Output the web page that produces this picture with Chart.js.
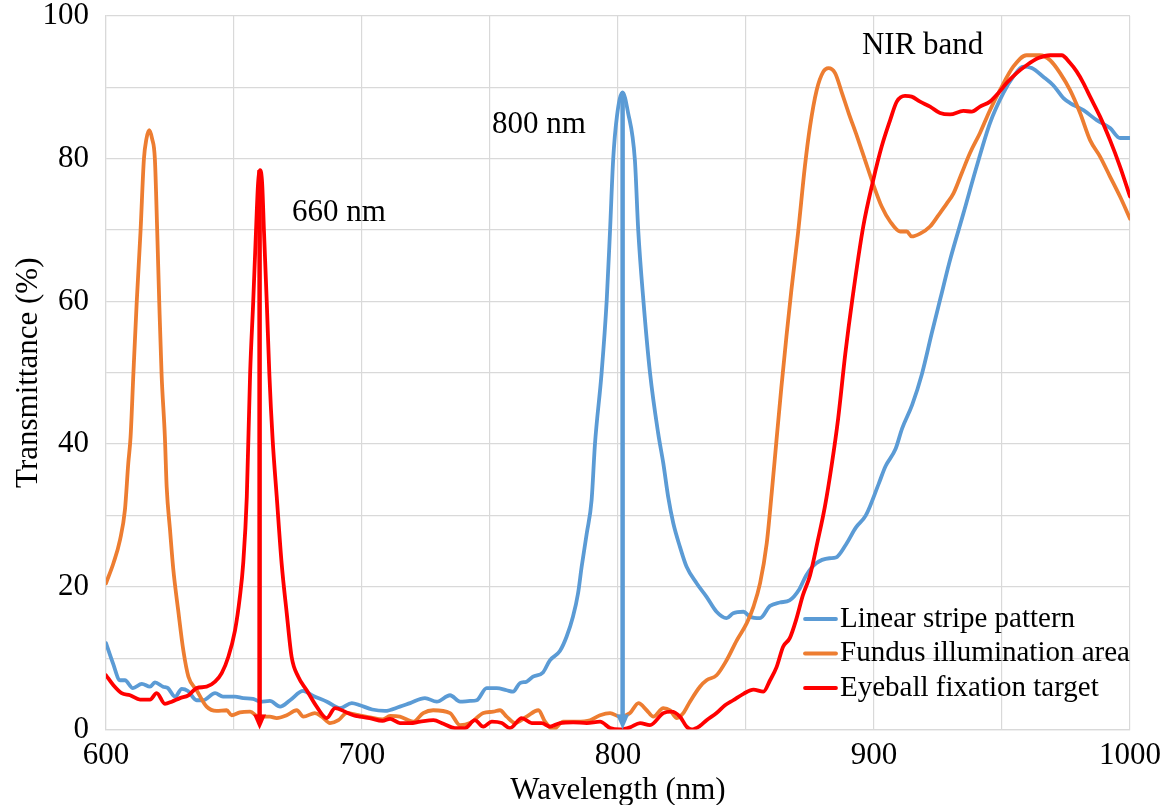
<!DOCTYPE html>
<html>
<head>
<meta charset="utf-8">
<script src="https://cdn.jsdelivr.net/npm/chart.js@4.4.1/dist/chart.umd.min.js"></script>
<style>
  html, body { margin: 0; padding: 0; background: #fff; }
  #wrap { width: 1171px; height: 805px; }
</style>
</head>
<body>
<div id="wrap"><canvas id="spectra" width="1171" height="805"></canvas></div>
<script>
// transmittance spectra (%) of the three filter zones, sampled in nm
const stripeNm = [600, 602.7, 605.5, 607.4, 610.5, 614, 617.2, 619.1, 622.3, 624.2, 627, 629.6, 632, 635.4, 638, 642.6, 645.7, 650.4, 653.6, 657.4, 660.2, 664, 668, 671.9, 677, 681, 686.3, 691.4, 696, 699.2, 704, 709, 714.8, 718.8, 724.6, 729.2, 734.4, 738.3, 742.2, 744.8, 748.7, 752.6, 756.5, 759, 761.7, 764.3, 766.8, 770.7, 773.4, 777.3, 779.9, 782.4, 784.4, 785.8, 787.8, 789.7, 791, 793.6, 795.6, 796.9, 798.1, 799.6, 801.8, 803.9, 806.6, 807.9, 809.9, 812.5, 815.7, 817.7, 819.6, 821.6, 824.2, 826.8, 830.7, 834.6, 838.5, 842.4, 845, 849, 851.6, 855.5, 859.3, 863.2, 867, 870.9, 873.5, 877.4, 882.6, 885.1, 889, 892.9, 896.8, 901.9, 904.5, 908.4, 911, 914.9, 918.7, 922.6, 926, 929.7, 934.9, 940.1, 945.3, 950.5, 954.4, 958.3, 961.6, 966.1, 970, 974, 976.6, 981.8, 987, 992.2, 996.1, 1000];
const stripeT = [12.1, 9.3, 6.9, 6.9, 5.8, 6.4, 6.0, 6.6, 6.0, 5.8, 4.6, 5.7, 5.4, 4.1, 4.1, 5.1, 4.6, 4.6, 4.4, 4.3, 3.9, 4.0, 3.2, 4.1, 5.4, 4.7, 3.9, 3.0, 3.7, 3.4, 2.8, 2.6, 3.2, 3.7, 4.4, 3.9, 4.8, 3.9, 4.0, 4.1, 5.8, 5.8, 5.5, 5.3, 6.5, 6.7, 7.4, 8.0, 9.7, 11.0, 13.0, 15.8, 19.1, 22.8, 27.5, 32.2, 40.0, 50.0, 60.2, 70.0, 79.8, 86.0, 89.3, 86.5, 79.8, 70.0, 60.2, 50.0, 41.5, 37.3, 32.6, 28.9, 25.6, 22.8, 20.5, 18.6, 16.5, 15.6, 16.3, 16.5, 15.8, 15.6, 17.3, 17.8, 18.1, 19.7, 21.6, 23.3, 24.0, 24.1, 25.9, 28.3, 30.0, 34.5, 36.9, 39.3, 42.2, 45.5, 49.8, 55.6, 60.5, 65.8, 72.3, 78.9, 85.0, 89.2, 91.5, 92.9, 92.7, 91.5, 90.3, 88.5, 87.8, 86.8, 85.4, 84.3, 82.9, 82.9];

const fundusNm = [600, 602.9, 605.5, 607.4, 608.7, 609.6, 610.7, 612, 613.5, 614.8, 615.8, 616.9, 618, 619.1, 620, 620.8, 621.7, 623, 623.7, 625, 626.3, 628.2, 630.2, 632.2, 635.4, 639.3, 643.2, 647.1, 649.1, 652.3, 656.3, 659.5, 664, 666.7, 670.6, 674.5, 677.1, 681.6, 684.3, 687.5, 690.8, 694, 698.6, 703, 708, 711, 714.8, 720, 723.9, 727.8, 734.4, 738.3, 742.2, 747.4, 751.3, 753.9, 756.5, 759.8, 764.3, 768.9, 771.5, 774.7, 778.6, 783.9, 789.1, 793, 796.9, 800.8, 804.7, 808, 811.2, 813.8, 817.7, 820.3, 823, 825.5, 828.1, 832, 834.6, 838.5, 842.4, 846.4, 850.3, 852.9, 855.5, 858.1, 860, 861.9, 863.8, 865.8, 867.7, 870.3, 873, 875, 877.6, 880.2, 882.2, 884.8, 887.5, 890.1, 893.4, 896.5, 900, 903, 906.3, 910.2, 912.8, 914.7, 918, 921.9, 925.2, 928.4, 931, 934.3, 937.5, 941.4, 945.3, 949.2, 954.4, 959.6, 964.8, 968.8, 972.7, 976.6, 980.5, 984.4, 988.3, 992.2, 996.1, 1000];
const fundusT = [20.5, 23.3, 26.6, 30.8, 37.3, 41.0, 49.9, 59.9, 69.9, 79.9, 82.8, 84.0, 82.8, 79.9, 69.9, 59.9, 49.9, 41.0, 34.0, 28.0, 22.4, 16.7, 11.1, 7.4, 5.5, 3.2, 2.6, 2.7, 2.0, 2.4, 2.5, 1.8, 1.8, 1.6, 2.0, 2.7, 1.8, 2.3, 1.8, 0.9, 1.3, 2.3, 2.0, 1.7, 1.4, 1.9, 1.8, 1.1, 2.3, 2.7, 2.3, 0.6, 0.9, 2.3, 2.5, 2.7, 1.8, 0.9, 1.8, 2.7, 1.1, 0.0, 1.1, 1.1, 1.3, 2.0, 2.3, 1.8, 2.3, 3.7, 2.7, 1.8, 3.0, 2.7, 1.6, 2.3, 3.9, 6.0, 6.9, 7.6, 9.7, 12.5, 14.9, 17.2, 20.5, 26.1, 33.0, 40.5, 47.9, 55.1, 61.5, 69.5, 78.9, 84.5, 89.6, 92.2, 92.7, 92.0, 89.2, 86.4, 83.1, 79.8, 76.1, 73.3, 71.2, 69.8, 69.8, 69.1, 69.5, 70.5, 72.1, 73.7, 75.1, 78.0, 80.8, 83.6, 86.8, 89.6, 92.9, 94.5, 94.5, 93.8, 92.0, 89.6, 86.4, 82.6, 80.3, 77.5, 74.7, 71.6];

const fixationNm = [600, 602.9, 606.1, 609.4, 613.3, 617.2, 619.8, 623, 625.7, 628.9, 632.2, 635.4, 639.3, 642.6, 645.2, 647.8, 650.4, 652.3, 653.6, 655, 656.3, 657.5, 658.6, 659.4, 660.2, 661, 661.7, 662.8, 663.8, 665.1, 666.7, 668.6, 670.6, 672.5, 675.1, 678.4, 682.3, 686.2, 689.5, 693.4, 696.6, 699.2, 703, 708, 711, 714.8, 718.8, 722.7, 727.9, 731.8, 736.3, 740.2, 744.1, 747.4, 750.7, 754.6, 757.8, 762.4, 766.3, 770.2, 773.4, 777.3, 782.5, 787.8, 793, 796.9, 800.8, 804.7, 808.6, 812.5, 817.7, 820.9, 824.2, 826.8, 828.8, 832, 834.6, 838.5, 841.8, 845, 849, 852.9, 856.8, 859.4, 861.9, 864.5, 867.1, 869.6, 872.2, 875, 878, 880.8, 883.4, 886, 888.8, 891.5, 895.8, 899.7, 903, 906.3, 908.9, 912.1, 914.7, 918, 921.9, 925.8, 929.7, 934.9, 938.2, 941.4, 945.3, 948.6, 951.8, 955.7, 959.6, 964.2, 968.8, 973.3, 976.6, 979.2, 981.8, 984.4, 988.3, 992.2, 996.1, 1000];
const fixationT = [7.6, 6.2, 5.1, 4.8, 4.2, 4.2, 5.1, 3.6, 3.9, 4.4, 4.8, 5.8, 6.0, 6.7, 7.9, 10.2, 13.9, 18.6, 23.3, 32.6, 49.9, 59.9, 69.9, 76.5, 78.4, 76.5, 69.9, 59.9, 49.9, 40.6, 32.6, 23.3, 16.3, 10.2, 7.4, 5.5, 3.2, 1.6, 3.0, 2.5, 2.0, 1.8, 1.6, 1.2, 1.5, 0.9, 0.9, 1.1, 1.3, 0.8, 0.2, 0.2, 1.3, 0.4, 1.1, 0.9, 0.2, 1.6, 0.9, 0.9, 0.4, 0.9, 1.0, 0.9, 1.1, 0.2, 0.0, 0.3, 0.9, 0.6, 2.3, 2.5, 1.8, 0.4, 0.0, 0.5, 1.3, 2.3, 3.4, 4.1, 5.0, 5.6, 5.3, 6.9, 8.7, 11.6, 12.8, 15.4, 18.8, 21.6, 26.4, 31.2, 36.9, 43.6, 52.7, 60.2, 70.5, 77.0, 81.7, 85.4, 88.0, 88.8, 88.7, 88.0, 87.3, 86.4, 86.2, 86.7, 86.6, 87.3, 88.0, 89.2, 90.6, 92.0, 93.1, 94.1, 94.5, 94.5, 93.4, 92.2, 90.6, 88.7, 85.9, 82.6, 78.9, 74.7];

const seriesNames = ['Linear stripe pattern', 'Fundus illumination area', 'Eyeball fixation target'];
const seriesColors = ['#5b9bd5', '#ed7d31', '#ff0000'];

const xTicks = [600, 700, 800, 900, 1000];
const yTicks = [0, 20, 40, 60, 80, 100];

// vertical arrows from the peaks down to the axis
const arrowNm = [660, 801.8];
const arrowTop = [78.4, 89.3];
const arrowColors = ['#ff0000', '#5b9bd5'];

// text labels placed in data space
const noteText = ['660 nm', '800 nm', 'NIR band'];
const noteNm = [672.7, 750.8, 895.3];
const noteT = [72.4, 84.8, 95.8];

const SERIF = '"Liberation Serif", "Times New Roman", serif';
Chart.defaults.font.family = SERIF;
Chart.defaults.color = '#000';

const pairs = (xs, ys) => xs.map((x, i) => ({ x: x, y: ys[i] }));
const series = [pairs(stripeNm, stripeT), pairs(fundusNm, fundusT), pairs(fixationNm, fixationT)];

const peakArrows = {
  id: 'peakArrows',
  afterDatasetsDraw(chart) {
    const { ctx, scales: { x, y } } = chart;
    ctx.save();
    arrowNm.forEach((nm, i) => {
      const px = x.getPixelForValue(nm);
      const top = y.getPixelForValue(arrowTop[i]);
      const tip = y.getPixelForValue(0);
      const headH = 15, headW = 6.5;
      ctx.strokeStyle = arrowColors[i];
      ctx.fillStyle = arrowColors[i];
      ctx.lineWidth = 4.5;
      ctx.beginPath();
      ctx.moveTo(px, top);
      ctx.lineTo(px, tip - headH + 1);
      ctx.stroke();
      ctx.beginPath();
      ctx.moveTo(px - headW, tip - headH);
      ctx.lineTo(px + headW, tip - headH);
      ctx.lineTo(px, tip);
      ctx.closePath();
      ctx.fill();
    });
    ctx.restore();
  }
};

const notes = {
  id: 'notes',
  afterDatasetsDraw(chart) {
    const { ctx, scales: { x, y } } = chart;
    ctx.save();
    ctx.font = '31px ' + SERIF;
    ctx.fillStyle = '#000';
    ctx.textAlign = 'left';
    ctx.textBaseline = 'middle';
    noteText.forEach((t, i) => ctx.fillText(t, x.getPixelForValue(noteNm[i]), y.getPixelForValue(noteT[i])));
    ctx.restore();
  }
};

// legend sits inside the plot, lower right
const insideLegend = {
  id: 'insideLegend',
  afterDraw(chart) {
    const { ctx, chartArea } = chart;
    const x0 = chartArea.right - 325;
    const y0 = chartArea.bottom - 110.5;
    ctx.save();
    ctx.font = '29px ' + SERIF;
    ctx.textAlign = 'left';
    ctx.textBaseline = 'middle';
    chart.data.datasets.forEach((ds, i) => {
      const yy = y0 + i * 34.5;
      ctx.strokeStyle = ds.borderColor;
      ctx.lineWidth = 3.8;
      ctx.lineCap = 'round';
      ctx.beginPath();
      ctx.moveTo(x0, yy);
      ctx.lineTo(x0 + 31, yy);
      ctx.stroke();
      ctx.fillStyle = '#000';
      ctx.fillText(ds.label, x0 + 35, yy);
    });
    ctx.restore();
  }
};

new Chart(document.getElementById('spectra').getContext('2d'), {
  type: 'scatter',
  data: {
    datasets: series.map((d, i) => ({
      label: seriesNames[i],
      data: d,
      showLine: true,
      borderColor: seriesColors[i],
      backgroundColor: seriesColors[i],
      borderWidth: 3.8,
      pointRadius: 0,
      cubicInterpolationMode: 'monotone',
      borderJoinStyle: 'round',
      borderCapStyle: 'round',
      order: 2 - i
    }))
  },
  options: {
    responsive: false,
    animation: false,
    layout: { padding: { left: 0, right: 41, top: 16, bottom: 0 } },
    plugins: { legend: { display: false }, tooltip: { enabled: false } },
    scales: {
      x: {
        type: 'linear',
        min: 600,
        max: 1000,
        afterFit: s => { s.height = 75.5; s.paddingLeft = 0; s.paddingRight = 0; },
        ticks: {
          stepSize: 50,
          autoSkip: false,
          maxRotation: 0,
          padding: 8,
          font: { size: 31 },
          callback: v => xTicks.includes(v) ? String(v) : ''
        },
        grid: { color: '#d9d9d9', lineWidth: 1.2, drawTicks: false },
        border: { color: '#d9d9d9', width: 1.2 },
        title: { display: true, text: 'Wavelength (nm)', font: { size: 31, lineHeight: 0.9 }, padding: 0 }
      },
      y: {
        min: 0,
        max: 100,
        afterFit: s => { s.width = 106; s.paddingTop = 0; s.paddingBottom = 0; },
        ticks: {
          stepSize: 10,
          autoSkip: false,
          padding: 17,
          font: { size: 31 },
          callback: v => yTicks.includes(v) ? String(v) : ''
        },
        grid: { color: '#d9d9d9', lineWidth: 1.2, drawTicks: false },
        border: { color: '#d9d9d9', width: 1.2 },
        title: { display: true, text: 'Transmittance (%)', font: { size: 31 }, padding: { top: 10, bottom: 0 } }
      }
    }
  },
  plugins: [peakArrows, notes, insideLegend]
});
</script>
</body>
</html>
